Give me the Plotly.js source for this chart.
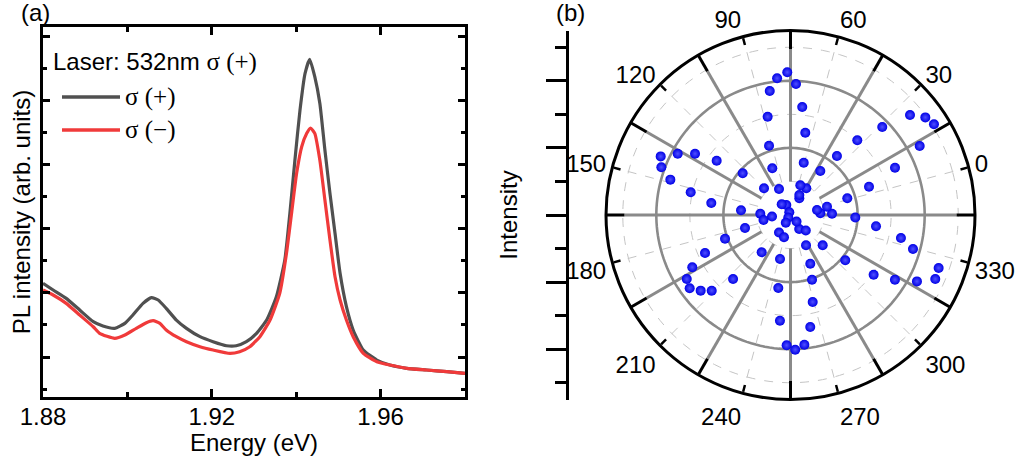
<!DOCTYPE html>
<html>
<head>
<meta charset="utf-8">
<script src="https://cdn.plot.ly/plotly-3.0.1.min.js"></script>
<style>html,body{margin:0;padding:0;background:#fff;}#chart{width:1017px;height:460px;}</style>
</head>
<body>
<div id="chart"></div>
<script>
// ---------- Panel (a): PL spectra ----------
const ENERGY_PLUS = [1.8800,1.8824,1.8855,1.8887,1.8919,1.8942,1.8970,1.8994,1.9013,1.9037,1.9057,1.9073,1.9092,1.9116,1.9140,1.9172,1.9203,1.9235,1.9258,1.9282,1.9306,1.9330,1.9353,1.9373,1.9385,1.9397,1.9409,1.9421,1.9432,1.9444,1.9456,1.9468,1.9480,1.9492,1.9504,1.9519,1.9535,1.9559,1.9591,1.9622,1.9662,1.9709,1.9757,1.9800];
const PL_PLUS = [2.148,2.044,1.914,1.732,1.550,1.483,1.447,1.524,1.654,1.836,1.924,1.888,1.758,1.576,1.447,1.317,1.239,1.176,1.176,1.239,1.369,1.576,1.940,2.511,3.238,4.069,4.847,5.419,5.637,5.366,4.952,4.224,3.550,2.927,2.304,1.784,1.421,1.109,0.953,0.875,0.824,0.798,0.772,0.746];
const ENERGY_MINUS = [1.8800,1.8824,1.8855,1.8887,1.8919,1.8934,1.8970,1.8994,1.9021,1.9045,1.9061,1.9077,1.9092,1.9116,1.9140,1.9172,1.9203,1.9243,1.9266,1.9290,1.9314,1.9338,1.9361,1.9377,1.9389,1.9401,1.9413,1.9425,1.9434,1.9444,1.9456,1.9468,1.9480,1.9492,1.9504,1.9519,1.9535,1.9559,1.9591,1.9622,1.9662,1.9709,1.9757,1.9800];
const PL_MINUS = [2.044,1.966,1.836,1.654,1.472,1.369,1.291,1.343,1.447,1.535,1.566,1.524,1.421,1.317,1.239,1.161,1.109,1.057,1.083,1.161,1.317,1.576,1.992,2.615,3.238,3.861,4.276,4.484,4.567,4.484,4.069,3.445,2.822,2.251,1.888,1.576,1.317,1.057,0.927,0.875,0.824,0.798,0.772,0.746];
const SERIES_NAMES = ['σ (+)', 'σ (−)'];
const LEGEND_TITLE_MAIN = 'Laser: 532nm ';
const LEGEND_TITLE_POL = 'σ (+)';
const X_TICKS = [1.88, 1.92, 1.96];
const X_TICK_LABELS = ['1.88', '1.92', '1.96'];
const X_MINOR_TICKS = [1.90, 1.94, 1.98];
const Y_TICKS = [1, 2, 3, 4, 5, 6];
const Y_MINOR_TICKS = [0.5, 1.5, 2.5, 3.5, 4.5, 5.5];

// ---------- Panel (b): polar intensity ----------
const POLAR_ANGLE = [1.4,4.8,9.35,13.1,17.3,20.9,24.9,28.8,33.2,36.8,40.9,44.4,47.2,51.25,56.7,60.8,64.8,68.8,72.6,76.3,80.6,84.5,88.1,92.2,96.3,97.8,98.9,99,114.4,119.8,123.9,128.7,132.3,136.5,140.7,144.7,148.6,152.2,156.4,159.6,162.5,169.6,175.5,180.9,184.9,189.0,193.0,196.7,201.0,205.1,208.85,213.1,213.7,217.3,221.7,223.6,238.7,241.6,245.5,249.3,253.3,257.0,261.1,265.0,269.3,273.4,277.1,282.1,286.9,297.7,299.6,301.7,305.4,309.3,313.2,317.3,321.15,325.3,329.5,333.2,337.5,342.8,346.8,348.3,355.7,357.8];
const POLAR_INTENSITY = [1.765,2.487,3.419,4.366,5.060,4.962,4.644,3.790,2.987,2.239,1.584,0.925,0.563,0.651,0.932,1.608,2.492,3.238,3.908,4.255,4.094,3.748,3.007,2.163,1.494,0.323,0.847,0.088,0.413,1.121,1.891,2.731,3.382,3.826,4.246,4.105,3.734,3.051,2.388,1.482,0.901,0.553,0.818,1.410,2.076,2.789,3.316,3.635,3.715,3.501,3.257,2.564,0.099,1.405,0.624,0.269,0.689,1.348,2.206,3.166,3.886,4.018,3.888,3.390,2.676,2.032,1.567,1.014,0.491,0.264,0.649,1.318,2.119,3.052,3.663,4.257,4.719,4.691,3.789,3.364,2.571,1.933,1.238,0.890,0.804,1.116];
const ANGLE_TICKS = [0,30,60,90,120,150,180,210,240,270,300,330];
const SPOKE_ANGLES = [15,45,75,105,135,165,195,225,255,285,315,345];
const SOLID_RINGS = [2, 4];
const DASHED_RINGS = [1, 3, 5];
const R_MAX = 5.5;
const R_INNER = 1;
const R_BLACK = 4.95;
const LEFT_MAJOR = [-4, -2, 0, 2, 4];
const LEFT_MINOR = [-5, -3, -1, 1, 3, 5];

// ---------- helpers ----------
const W = 1017, H = 460;
const px = v => v / W;
const py = v => (H - v) / H;
const GREY = '#8a8a8a';
const FONT = 'Arial, "Liberation Sans", sans-serif';
const SERIF = '"Liberation Serif", "Times New Roman", serif';
const COL_PLUS = '#505050', COL_MINUS = '#f03a3a';

const circleTheta = [];
for (let a = 0; a <= 360; a += 2) circleTheta.push(a);

function ringTrace(radii, style) {
  const r = [], t = [];
  radii.forEach(rv => { circleTheta.forEach(a => { r.push(rv); t.push(a); }); r.push(null); t.push(null); });
  return {type: 'scatterpolar', mode: 'lines', r: r, theta: t, line: style, hoverinfo: 'skip', showlegend: false, connectgaps: false};
}
function spokeTrace(angles, r0, r1, style) {
  const r = [], t = [];
  angles.forEach(a => { r.push(r0, r1, null); t.push(a, a, null); });
  return {type: 'scatterpolar', mode: 'lines', r: r, theta: t, line: style, hoverinfo: 'skip', showlegend: false, connectgaps: false};
}

const traces = [
  {type: 'scatter', mode: 'lines', x: ENERGY_PLUS, y: PL_PLUS, name: SERIES_NAMES[0],
   line: {color: COL_PLUS, width: 3.2, shape: 'spline', smoothing: 0.5}, xaxis: 'x', yaxis: 'y'},
  {type: 'scatter', mode: 'lines', x: ENERGY_MINUS, y: PL_MINUS, name: SERIES_NAMES[1],
   line: {color: COL_MINUS, width: 3.2, shape: 'spline', smoothing: 0.5}, xaxis: 'x', yaxis: 'y'},
  {type: 'scatter', x: [], y: [], xaxis: 'x2', yaxis: 'y2', showlegend: false, hoverinfo: 'skip'},
  ringTrace(DASHED_RINGS, {color: '#c4c4c4', width: 1, dash: 'dash'}),
  spokeTrace(ANGLE_TICKS, R_INNER, R_MAX, {color: '#c4c4c4', width: 1, dash: 'dash'}),
  ringTrace(SOLID_RINGS, {color: GREY, width: 2.6}),
  spokeTrace(SPOKE_ANGLES, R_INNER, R_BLACK, {color: GREY, width: 3}),
  spokeTrace(SPOKE_ANGLES, R_BLACK, R_MAX, {color: '#000', width: 3}),
  {type: 'scatterpolar', mode: 'markers', r: POLAR_INTENSITY, theta: POLAR_ANGLE, name: 'Intensity',
   marker: {size: 10, color: '#0000e6', line: {width: 0}, gradient: {type: 'radial', color: '#5050ff'}}, showlegend: false}
];

const layout = {
  width: W, height: H,
  margin: {l: 0, r: 0, t: 0, b: 0, pad: 0},
  paper_bgcolor: '#fff', plot_bgcolor: '#fff',
  showlegend: false,
  font: {family: FONT, size: 24, color: '#000'},
  xaxis: {
    domain: [px(43), px(465)], range: [1.88, 1.98], anchor: 'y',
    tickmode: 'array', tickvals: X_TICKS, ticktext: X_TICK_LABELS,
    ticks: 'inside', ticklen: 8, tickwidth: 3, tickcolor: '#000',
    minor: {tickmode: 'array', tickvals: X_MINOR_TICKS, ticks: 'inside', ticklen: 5, tickwidth: 3, tickcolor: '#000', showgrid: false},
    showline: true, linewidth: 3, linecolor: '#000', mirror: 'ticks',
    showgrid: false, zeroline: false, automargin: false,
    tickfont: {size: 24, family: FONT}, ticklabelstandoff: -4,
    title: {text: 'Energy (eV)', font: {size: 24, family: FONT}, standoff: 0}
  },
  yaxis: {
    domain: [py(396.7), py(27.3)], range: [0.382, 6.136], anchor: 'x',
    tickmode: 'array', tickvals: Y_TICKS, showticklabels: false,
    ticks: 'inside', ticklen: 7, tickwidth: 3, tickcolor: '#000',
    minor: {tickmode: 'array', tickvals: Y_MINOR_TICKS, ticks: 'inside', ticklen: 4, tickwidth: 3, tickcolor: '#000', showgrid: false},
    showline: true, linewidth: 3, linecolor: '#000', mirror: 'ticks',
    showgrid: false, zeroline: false, automargin: false,
    title: {text: 'PL intensity (arb. units)', font: {size: 24, family: FONT}, standoff: 3}
  },
  xaxis2: {domain: [px(569), px(590)], visible: false, anchor: 'y2', range: [0, 1], fixedrange: true},
  yaxis2: {
    domain: [py(399.5), py(30.5)], range: [-R_MAX, R_MAX], anchor: 'x2', side: 'left',
    tickmode: 'array', tickvals: LEFT_MAJOR, showticklabels: false,
    ticks: 'outside', ticklen: 20, tickwidth: 3, tickcolor: '#000',
    minor: {tickmode: 'array', tickvals: LEFT_MINOR, ticks: 'outside', ticklen: 11, tickwidth: 3, tickcolor: '#000', showgrid: false},
    showline: true, linewidth: 3, linecolor: '#000',
    showgrid: false, zeroline: false, automargin: false,
    title: {text: 'Intensity', font: {size: 24, family: FONT}, standoff: 22}
  },
  polar: {
    domain: {x: [px(606), px(975)], y: [py(399.5), py(30.5)]},
    bgcolor: '#fff',
    radialaxis: {range: [0, R_MAX], showline: false, showticklabels: false, ticks: '', showgrid: false},
    angularaxis: {
      rotation: 15, direction: 'counterclockwise',
      tickmode: 'array', tickvals: ANGLE_TICKS, ticktext: ANGLE_TICKS.map(String),
      ticks: 'inside', ticklen: 7, tickwidth: 2.5, tickcolor: '#000',
      showline: true, linecolor: '#000', linewidth: 3, showgrid: false,
      tickfont: {size: 24, family: FONT, color: '#000'}
    }
  },
  shapes: [
    {type: 'line', xref: 'paper', yref: 'paper', x0: px(62), x1: px(120), y0: py(97), y1: py(97), line: {color: COL_PLUS, width: 3.5}},
    {type: 'line', xref: 'paper', yref: 'paper', x0: px(62), x1: px(120), y0: py(130), y1: py(130), line: {color: COL_MINUS, width: 3.5}}
  ],
  annotations: [
    {xref: 'paper', yref: 'paper', x: px(35), y: py(13), text: '(a)', showarrow: false, xanchor: 'center', yanchor: 'middle', font: {size: 24}},
    {xref: 'paper', yref: 'paper', x: px(570), y: py(13), text: '(b)', showarrow: false, xanchor: 'center', yanchor: 'middle', font: {size: 24}},
    {xref: 'paper', yref: 'paper', x: px(51), y: py(62), showarrow: false, xanchor: 'left', yanchor: 'middle', font: {size: 24},
     text: LEGEND_TITLE_MAIN + '<span style="font-family:' + SERIF.replace(/"/g, "'") + ';font-size:25px">' + LEGEND_TITLE_POL + '</span>'},
    {xref: 'paper', yref: 'paper', x: px(123), y: py(97), showarrow: false, xanchor: 'left', yanchor: 'middle', text: SERIES_NAMES[0], font: {size: 25, family: SERIF}},
    {xref: 'paper', yref: 'paper', x: px(123), y: py(130), showarrow: false, xanchor: 'left', yanchor: 'middle', text: SERIES_NAMES[1], font: {size: 25, family: SERIF}}
  ]
};

Plotly.newPlot('chart', traces, layout, {staticPlot: true, displayModeBar: false});
</script>
</body>
</html>
